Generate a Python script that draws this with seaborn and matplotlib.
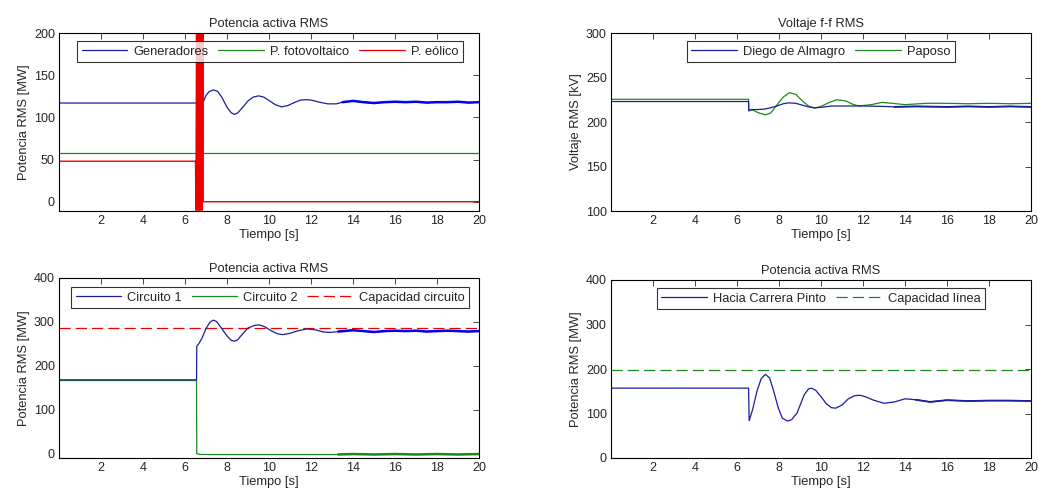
import numpy as np
import pandas as pd
import matplotlib
matplotlib.use("Agg")
from matplotlib import pyplot as plt
import seaborn as sns

# ---- data ----
# top left: potencia activa
gen_t = [0, 6.5, 6.85, 7.0, 7.15, 7.35, 7.55, 7.75, 8.0, 8.2, 8.35, 8.5, 8.75, 9.0, 9.25, 9.5,
         9.75, 10.0, 10.3, 10.6, 10.9, 11.2, 11.5, 11.75, 12.0, 12.4, 12.8, 13.2, 13.5, 14.0, 14.5,
         15.0, 15.5, 16.0, 16.5, 17.0, 17.5, 18.0, 18.5, 19.0, 19.5, 20.0]
gen_p = [117, 117, 117, 126, 130.5, 132.5, 131, 124, 112, 105.5, 103.5, 105, 112, 119.5, 124, 125.5,
         124, 120, 115, 112.5, 114, 117.5, 120.5, 121, 120.5, 118, 116, 116, 118, 119.5, 118,
         117, 118, 118.5, 118, 118.5, 117.5, 118, 118, 118.5, 117.5, 118]
fv_t = [0, 20]
fv_p = [58, 58]
eol_t = [0, 6.5, 6.52, 6.55, 6.58, 6.61, 6.64, 6.67, 6.70, 6.73, 6.76, 6.79, 6.82, 6.85, 6.87, 20]
eol_p = [48, 48, -10, 215, -10, 215, -10, 215, -10, 215, -10, 215, -10, 215, 0, 0]

# top right: voltaje
da_t = [0, 6.55, 6.56, 6.7, 7.0, 7.3, 7.6, 7.9, 8.2, 8.45, 8.8, 9.1, 9.4, 9.7, 10.0, 10.5, 11.0,
        12.0, 13.0, 13.5, 14.5, 16, 17, 18, 19, 20]
da_v = [223, 223, 212.5, 214, 214, 214.5, 216, 218, 220.5, 221.5, 221, 219, 217, 216, 216.5, 218, 218,
        218, 217.5, 217, 217.5, 217, 217.5, 217, 217.5, 217]
pap_t = [0, 6.55, 6.56, 6.8, 7.0, 7.35, 7.6, 7.9, 8.2, 8.5, 8.8, 9.1, 9.4, 9.7, 10.0, 10.4, 10.75,
         11.2, 11.5, 11.8, 12.4, 12.9, 13.4, 14.0, 15.0, 16.0, 17, 18, 19, 20]
pap_v = [225.5, 225.5, 214, 213, 210.5, 208, 210, 219, 228, 233, 231, 224, 218, 215.5, 217.5, 222, 225,
         223.5, 220, 218, 219.5, 222, 221, 219.5, 221, 221, 220.5, 221, 220.5, 221]

# bottom left: circuitos
c1_t = [0, 6.55, 6.56, 6.65, 6.8, 7.0, 7.2, 7.35, 7.5, 7.75, 8.0, 8.2, 8.35, 8.5, 8.75, 9.0, 9.3,
        9.55, 9.8, 10.1, 10.4, 10.65, 11.0, 11.4, 11.8, 12.2, 12.6, 12.9, 13.3, 14.0, 14.5, 15.0,
        15.5, 16.0, 16.5, 17.0, 17.5, 18.0, 18.5, 19.0, 19.5, 20.0]
c1_p = [168, 168, 245, 250, 262, 285, 300, 304, 301, 285, 268, 258, 256, 259, 273, 286, 292,
        293, 289, 280, 273, 271, 274, 280, 284, 282, 277, 276, 278, 281, 279, 277,
        279, 280, 279, 280, 278, 279, 280, 279, 278, 279]
c2_t = [0, 6.55, 6.56, 6.7, 13.3, 14, 15, 16, 17, 18, 19, 20]
c2_p = [166.5, 166.5, 0, -2, -2, -1, -2, -1, -2, -1, -2, -1]
cap_circ = 285

# bottom right: linea
hcp_t = [0, 6.55, 6.58, 6.75, 6.95, 7.15, 7.35, 7.55, 7.75, 7.95, 8.15, 8.4, 8.6, 8.75, 8.85, 9.0,
         9.2, 9.4, 9.55, 9.75, 10.0, 10.25, 10.5, 10.7, 11.0, 11.3, 11.6, 11.85, 12.1, 12.5, 13.0,
         13.5, 14.0, 14.5, 15.2, 16.0, 17.0, 18.0, 19.0, 20.0]
hcp_p = [157, 157, 84, 110, 150, 178, 188, 180, 150, 115, 90, 83, 86, 95, 100, 118,
         142, 155, 157, 152, 138, 122, 113, 112, 119, 133, 140, 141, 138, 130, 123,
         126, 133, 131, 126, 130, 128, 129, 129, 128]
cap_linea = 197

x_ticks = [2, 4, 6, 8, 10, 12, 14, 16, 18, 20]

BLUE = "#1c1c9c"
BLUE_N = "#0000ee"
GREEN = "#1a8a1a"
RED = "#ee0000"
DASH = (0, (9, 4))

sns.set_style("white")
plt.rcParams["font.family"] = ["Liberation Sans", "DejaVu Sans"]
plt.rcParams["font.size"] = 9

fig = plt.figure(figsize=(10.38, 4.95), dpi=100)
W = 420 / 1038
ax_tl = fig.add_axes([59 / 1038, 1 - 211 / 495, W, 178 / 495])
ax_tr = fig.add_axes([611 / 1038, 1 - 211 / 495, W, 178 / 495])
ax_bl = fig.add_axes([59 / 1038, 1 - 458 / 495, W, 180 / 495])
ax_br = fig.add_axes([611 / 1038, 1 - 458 / 495, W, 178 / 495])


def line(ax, t, y, color, lw=0.9, ls="-", noisy_from=None, noisy_lw=1.8, noisy_color=None):
    df = pd.DataFrame({"t": t, "y": y})
    sns.lineplot(data=df, x="t", y="y", ax=ax, color=color, lw=lw, ls=ls,
                 sort=False, estimator=None, legend=False)
    if noisy_from is not None:
        d2 = df[df["t"] >= noisy_from]
        sns.lineplot(data=d2, x="t", y="y", ax=ax, color=noisy_color or color, lw=noisy_lw,
                     sort=False, estimator=None, legend=False)


def style(ax, title, ylabel, ylim, yticks):
    ax.set_xlim(0, 20)
    ax.set_ylim(*ylim)
    ax.set_xticks(x_ticks)
    ax.set_yticks(yticks)
    ax.set_title(title, fontsize=9.3, pad=4)
    ax.set_xlabel("Tiempo [s]", fontsize=9.3, labelpad=1)
    ax.set_ylabel(ylabel, fontsize=9.3, labelpad=3)
    ax.tick_params(direction="in", length=4, width=0.6, top=True, right=True, labelsize=9, pad=3)
    for s in ax.spines.values():
        s.set_color("black")
        s.set_linewidth(0.8)


def legend(ax, handles, labels, bbox=None, ncol=3):
    kw = dict(ncol=ncol, frameon=True, fancybox=False, fontsize=9.3, handlelength=3.5,
              handletextpad=0.5, columnspacing=0.8, borderpad=0.35, borderaxespad=0)
    if bbox is not None:
        leg = ax.legend(handles, labels, loc="upper left", bbox_to_anchor=bbox, mode="expand", **kw)
    else:
        leg = ax.legend(handles, labels, loc="upper center", bbox_to_anchor=(0.5, 0.955), **kw)
    leg.get_frame().set_edgecolor("black")
    leg.get_frame().set_linewidth(0.8)


# top left
line(ax_tl, fv_t, fv_p, GREEN)
line(ax_tl, gen_t, gen_p, BLUE, noisy_from=13.5, noisy_color=BLUE_N)
line(ax_tl, eol_t, eol_p, RED, lw=1.0)
style(ax_tl, "Potencia activa RMS", "Potencia RMS [MW]", (-11, 200), [0, 50, 100, 150, 200])
h = [plt.Line2D([], [], color=c, lw=0.9) for c in (BLUE, GREEN, RED)]
legend(ax_tl, h, ["Generadores", "P. fotovoltaico", "P. eólico"], bbox=(0.043, 0.955, 0.919, 0.0))

# top right
line(ax_tr, pap_t, pap_v, GREEN)
line(ax_tr, da_t, da_v, BLUE, noisy_from=13.5, noisy_lw=1.3)
style(ax_tr, "Voltaje f-f RMS", "Voltaje RMS [kV]", (100, 300), [100, 150, 200, 250, 300])
h = [plt.Line2D([], [], color=c, lw=0.9) for c in (BLUE, GREEN)]
legend(ax_tr, h, ["Diego de Almagro", "Paposo"], ncol=2)

# bottom left
line(ax_bl, [0, 20], [cap_circ, cap_circ], RED, ls=DASH)
line(ax_bl, c2_t, c2_p, GREEN, noisy_from=13.3)
line(ax_bl, c1_t, c1_p, BLUE, noisy_from=13.3, noisy_color=BLUE_N)
style(ax_bl, "Potencia activa RMS", "Potencia RMS [MW]", (-10, 400), [0, 100, 200, 300, 400])
h = [plt.Line2D([], [], color=BLUE, lw=0.9), plt.Line2D([], [], color=GREEN, lw=0.9),
     plt.Line2D([], [], color=RED, lw=0.9, ls=DASH)]
legend(ax_bl, h, ["Circuito 1", "Circuito 2", "Capacidad circuito"], bbox=(0.029, 0.95, 0.948, 0.0))

# bottom right
line(ax_br, [0, 20], [cap_linea, cap_linea], GREEN, ls=DASH)
line(ax_br, hcp_t, hcp_p, BLUE, noisy_from=14.5, noisy_lw=1.3)
style(ax_br, "Potencia activa RMS", "Potencia RMS [MW]", (0, 400), [0, 100, 200, 300, 400])
h = [plt.Line2D([], [], color=BLUE, lw=0.9), plt.Line2D([], [], color=GREEN, lw=0.9, ls=DASH)]
legend(ax_br, h, ["Hacia Carrera Pinto", "Capacidad línea"], ncol=2)

fig.savefig("out.png", dpi=100, facecolor="white")
